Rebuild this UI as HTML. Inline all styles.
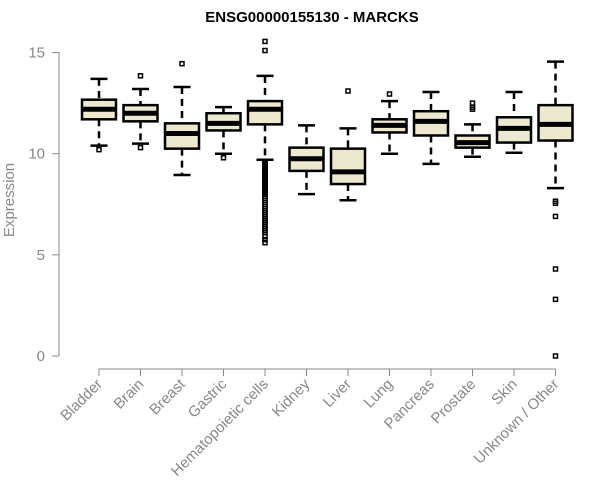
<!DOCTYPE html>
<html><head><meta charset="utf-8"><style>
body{margin:0;background:#fff;}
svg{display:block;font-family:"Liberation Sans",Arial,sans-serif;}
</style></head><body>
<svg id="chart" width="600" height="500">
<text x="312" y="22" text-anchor="middle" font-size="15" font-weight="bold">ENSG00000155130 - MARCKS</text>
<text transform="translate(14,200) rotate(-90)" text-anchor="middle" font-size="15" fill="#888">Expression</text>
<g id="axes"></g><g id="boxes"></g>
</svg>
<script>
const categories=["Bladder","Brain","Breast","Gastric","Hematopoietic cells","Kidney","Liver","Lung","Pancreas","Prostate","Skin","Unknown / Other"];
const whiskerLow=[10.4,10.5,8.95,10.0,9.7,8.0,7.7,10.0,9.5,9.85,10.05,8.3];
const q1=[11.7,11.6,10.25,11.15,11.45,9.15,8.5,11.05,10.9,10.3,10.55,10.65];
const medians=[12.2,12.0,11.0,11.5,12.2,9.75,9.1,11.4,11.6,10.55,11.25,11.45];
const q3=[12.67,12.4,11.5,12.0,12.6,10.3,10.25,11.7,12.1,10.9,11.8,12.4];
const whiskerHigh=[13.7,13.2,13.3,12.3,13.85,11.4,11.25,12.6,13.05,11.45,13.05,14.55];
const outliers=[[10.2],[13.85,10.3],[14.45],[9.8],
[15.55,15.1,9.6,9.55,9.5,9.45,9.4,9.35,9.3,9.25,9.2,9.15,9.1,9.05,9.0,8.95,8.9,8.85,8.8,8.75,8.7,8.65,8.6,8.55,8.5,8.45,8.4,8.35,8.3,8.25,8.2,8.15,8.1,8.05,8.0,7.9,7.8,7.7,7.6,7.5,7.4,7.3,7.2,7.1,7.0,6.9,6.8,6.7,6.6,6.5,6.4,6.3,6.2,6.1,5.9,5.75,5.6],
[],[13.1],[12.95],[],[12.5,12.3,12.2],[],[7.65,7.55,6.9,4.3,2.8,0]];
const yTicks=[0,5,10,15];
const NS="http://www.w3.org/2000/svg";
const svg=document.getElementById('chart');
const ax=document.getElementById('axes'),bx=document.getElementById('boxes');
const y=v=>356-20.23*v;
const x=i=>99+41.5*i;
function mk(p,tag,a){const e=document.createElementNS(NS,tag);for(const k in a)e.setAttribute(k,a[k]);p.appendChild(e);return e;}
let yl=mk(ax,'line',{x1:59,x2:59,y1:y(15),y2:y(0),stroke:'#888'});


yTicks.forEach(t=>{
 const tk=mk(ax,'line',{x1:52,x2:59,y1:y(t),y2:y(t),stroke:'#888'});
 
 
 const tl=mk(ax,'text',{x:45,y:y(t)+5,'text-anchor':'end','font-size':15,fill:'#888'});
 tl.textContent=t;
 
 
});
let xl=mk(ax,'line',{x1:x(0),x2:x(categories.length-1),y1:369,y2:369,stroke:'#888'});


categories.forEach((c,i)=>{
 const cx=x(i);
 const tk=mk(ax,'line',{x1:cx,x2:cx,y1:369,y2:376,stroke:'#888'});
 
 
 const tl=mk(ax,'text',{transform:`translate(${cx+4},${385}) rotate(-45)`,'text-anchor':'end','font-size':15,fill:'#888'});
 tl.textContent=c;
 
 
 const g=mk(bx,'g',{});
 
 
 const hw=17;
 mk(g,'line',{x1:cx,x2:cx,y1:y(whiskerHigh[i]),y2:y(q3[i]),stroke:'#000','stroke-width':2.5,'stroke-dasharray':'7,5'});
 mk(g,'line',{x1:cx,x2:cx,y1:y(q1[i]),y2:y(whiskerLow[i]),stroke:'#000','stroke-width':2.5,'stroke-dasharray':'7,5'});
 mk(g,'line',{x1:cx-8.5,x2:cx+8.5,y1:y(whiskerHigh[i]),y2:y(whiskerHigh[i]),stroke:'#000','stroke-width':2.5});
 mk(g,'line',{x1:cx-8.5,x2:cx+8.5,y1:y(whiskerLow[i]),y2:y(whiskerLow[i]),stroke:'#000','stroke-width':2.5});
 mk(g,'rect',{x:cx-hw,y:y(q3[i]),width:2*hw,height:y(q1[i])-y(q3[i]),fill:'#ede8d0',stroke:'#000','stroke-width':2.5});
 mk(g,'line',{x1:cx-hw,x2:cx+hw,y1:y(medians[i]),y2:y(medians[i]),stroke:'#000','stroke-width':5});
 outliers[i].forEach(v=>{
  const o=mk(g,'rect',{x:cx-2,y:y(v)-2,width:4,height:4,fill:'none',stroke:'#000','stroke-width':1.5});
  
  
 });
});
</script>
</body></html>
